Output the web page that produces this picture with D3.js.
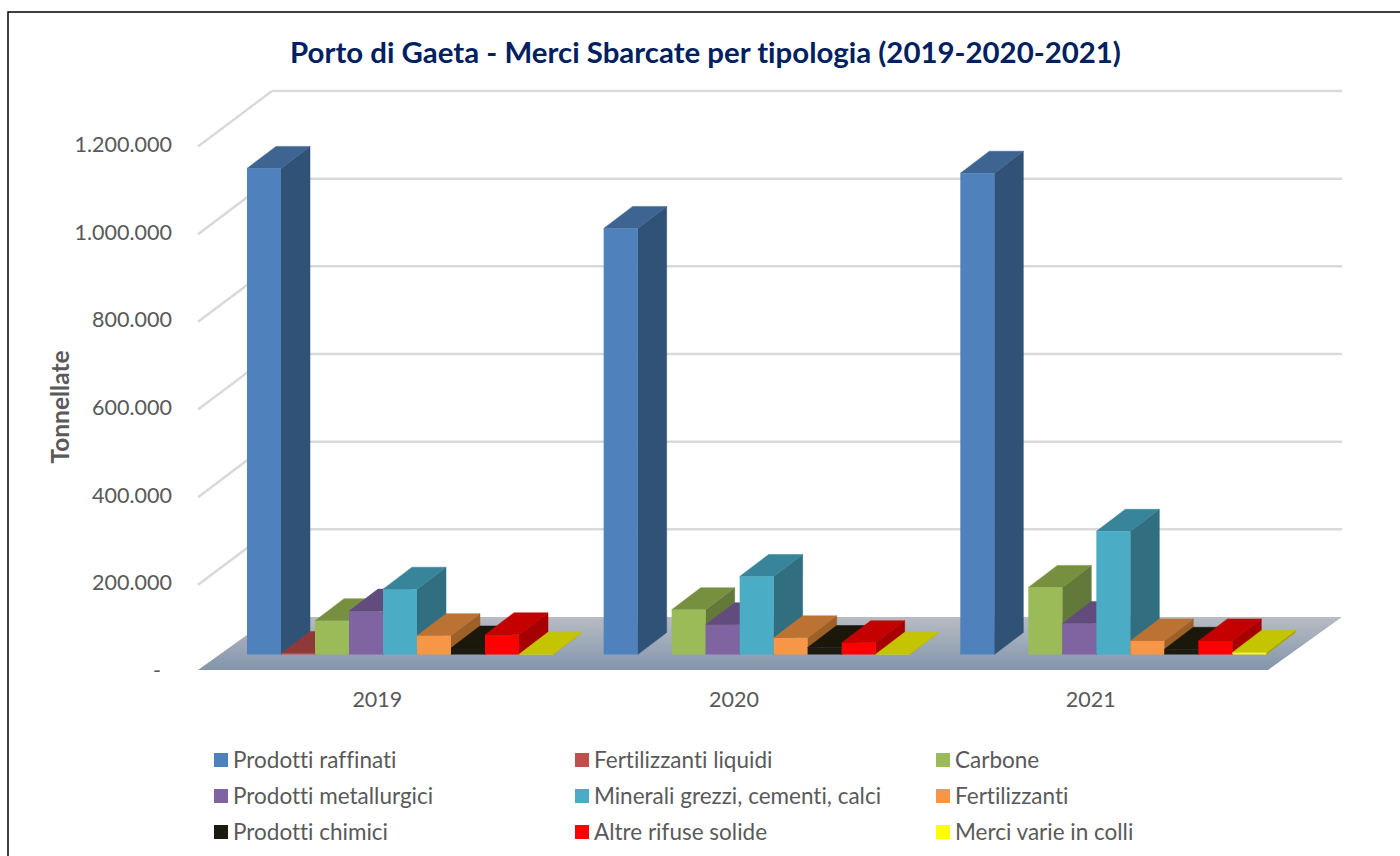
<!DOCTYPE html>
<meta charset="utf-8">
<style>
body { margin: 0; background: white; }
text { font-family: Lato, "Open Sans", sans-serif; font-variant-ligatures: none; }
.tick-label { fill: #595959; font-size: 21.5px; }
.legend-label { fill: #595959; font-size: 22.5px; }
.wall line { stroke: #d9d9d9; stroke-width: 2.5px; fill: none; }
</style>
<body>
<script src="https://d3js.org/d3.v7.min.js"></script>
<script>
var categories = ["2019", "2020", "2021"];
var seriesNames = ["Prodotti raffinati", "Fertilizzanti liquidi", "Carbone",
    "Prodotti metallurgici", "Minerali grezzi, cementi, calci", "Fertilizzanti",
    "Prodotti chimici", "Altre rifuse solide", "Merci varie in colli"];
var front = ["#4f81bd", "#c0504d", "#9bbb59", "#8064a2", "#4bacc6", "#f79646", "#1d1b10", "#ff0000", "#ffff00"];
var topFace = ["#3e6491", "#8f3a38", "#76903f", "#624c7d", "#38859b", "#bb7233", "#1a170b", "#c40000", "#c4c400"];
var sideFace = ["#315277", "#7a3130", "#63793a", "#533f6a", "#306e80", "#9e6029", "#14120a", "#a60000", "#a6a600"];

// one list per series, in the order of the years
var prodottiRaffinati = [1109000, 972000, 1098000];
var fertilizzantiLiquidi = [2500, 0, 0];
var carbone = [77000, 102000, 153000];
var prodottiMetallurgici = [99000, 68000, 71000];
var mineraliGrezzi = [149000, 178000, 281000];
var fertilizzanti = [43000, 38000, 31000];
var prodottiChimici = [15000, 16000, 12000];
var altreRifuse = [45000, 27000, 31000];
var merciVarie = [500, 500, 4500];
var seriesValues = [prodottiRaffinati, fertilizzantiLiquidi, carbone, prodottiMetallurgici,
    mineraliGrezzi, fertilizzanti, prodottiChimici, altreRifuse, merciVarie];
var yTicks = [0, 200000, 400000, 600000, 800000, 1000000, 1200000];

var svg = d3.select("body").append("svg")
    .attr("width", 1400)
    .attr("height", 856)
    .style("display", "block");

// chart border
svg.append("path")
    .attr("d", "M8,856V12H1400")
    .attr("fill", "none")
    .attr("stroke", "black")
    .attr("stroke-width", 1.5);

// front plane of the 3d box
var floorDepth = {dx: 74, dy: -53};
var barInset = {dx: 23, dy: -15.5};
var barDepth = {dx: 29, dy: -22};

var y = d3.scaleLinear().domain([0, 1200000]).range([670, 144]);
var x0 = d3.scaleBand().domain(categories).range([198, 1268]);
var x1 = d3.scaleBand().domain(d3.range(seriesNames.length)).range([0, 306]);

var fmt = function(v) {
    return v === 0 ? "-" : d3.format(",")(v).replace(/,/g, ".");
};

var defs = svg.append("defs");
var grad = defs.append("linearGradient")
    .attr("id", "floorGrad")
    .attr("x1", 0).attr("y1", 0).attr("x2", 0).attr("y2", 1);
grad.append("stop").attr("offset", "0%").attr("stop-color", "#b8bcc3");
grad.append("stop").attr("offset", "100%").attr("stop-color", "#8295ac");

// back wall gridlines, without the zero line
var wall = svg.append("g").attr("class", "wall");
wall.selectAll("line.side")
    .data(yTicks.slice(1))
    .enter().append("line")
    .attr("x1", 198)
    .attr("y1", function(d) { return y(d) + 2.5; })
    .attr("x2", 198 + floorDepth.dx)
    .attr("y2", function(d) { return y(d) + floorDepth.dy; });
wall.selectAll("line.back")
    .data(yTicks.slice(1))
    .enter().append("line")
    .attr("x1", 198 + floorDepth.dx)
    .attr("y1", function(d) { return y(d) + floorDepth.dy; })
    .attr("x2", 1268 + floorDepth.dx)
    .attr("y2", function(d) { return y(d) + floorDepth.dy; });

// floor
svg.append("path")
    .attr("d", d3.line()([
        [198, y(0)],
        [198 + floorDepth.dx, y(0) + floorDepth.dy],
        [1268 + floorDepth.dx, y(0) + floorDepth.dy],
        [1268, y(0)]
    ]) + "Z")
    .attr("fill", "url(#floorGrad)");

// bars, left to right so each front covers the side of the previous one
categories.forEach(function(cat, c) {
    var g = svg.append("g");
    seriesValues.forEach(function(vals, s) {
        if (vals[c] === 0) return;
        var left = x0(cat) + barInset.dx + 26 + x1(s);
        var right = left + x1.bandwidth();
        var base = y(0) + barInset.dy;
        var topY = base - (y(0) - y(vals[c]));
        g.append("path")
            .attr("d", d3.line()([[right, base], [right + barDepth.dx, base + barDepth.dy],
                [right + barDepth.dx, topY + barDepth.dy], [right, topY]]) + "Z")
            .attr("fill", sideFace[s])
            .attr("stroke", sideFace[s])
            .attr("stroke-width", 0.5);
        g.append("path")
            .attr("d", d3.line()([[left, topY], [left + barDepth.dx, topY + barDepth.dy],
                [right + barDepth.dx, topY + barDepth.dy], [right, topY]]) + "Z")
            .attr("fill", topFace[s])
            .attr("stroke", topFace[s])
            .attr("stroke-width", 0.5);
        g.append("rect")
            .attr("x", left)
            .attr("y", topY)
            .attr("width", x1.bandwidth())
            .attr("height", base - topY)
            .attr("fill", front[s]);
    });
});

// y tick labels
svg.selectAll("text.y")
    .data(yTicks)
    .enter().append("text")
    .attr("class", "tick-label")
    .attr("x", function(d) { return d === 0 ? 161 : 172; })
    .attr("y", function(d) { return y(d) + 8; })
    .attr("text-anchor", "end")
    .text(fmt);

// x tick labels
svg.selectAll("text.x")
    .data(categories)
    .enter().append("text")
    .attr("class", "tick-label")
    .attr("x", function(d) { return x0(d) + x0.bandwidth() / 2 + 1; })
    .attr("y", 707)
    .attr("text-anchor", "middle")
    .text(function(d) { return d; });

// axis title
svg.append("text")
    .attr("transform", "translate(69,407) rotate(-90)")
    .attr("text-anchor", "middle")
    .attr("fill", "#595959")
    .attr("font-size", 24.5)
    .attr("font-weight", 700)
    .text("Tonnellate");

// title
svg.append("text")
    .attr("x", 705.5)
    .attr("y", 63)
    .attr("text-anchor", "middle")
    .attr("fill", "#002060")
    .attr("font-size", 29.4)
    .attr("font-weight", 700)
    .text("Porto di Gaeta - Merci Sbarcate per tipologia (2019-2020-2021)");

// legend, 3 columns
var legendX = d3.scaleBand().domain([0, 1, 2]).range([214, 1297]);
var legendY = d3.scaleBand().domain([0, 1, 2]).range([742, 850]);
var legend = svg.selectAll("g.legend")
    .data(seriesNames)
    .enter().append("g")
    .attr("transform", function(d, i) {
        return "translate(" + legendX(i % 3) + "," + (legendY(Math.floor(i / 3)) + legendY.bandwidth() / 2) + ")";
    });
legend.append("rect")
    .attr("y", -7)
    .attr("width", 14)
    .attr("height", 14)
    .attr("fill", function(d, i) { return front[i]; });
legend.append("text")
    .attr("class", "legend-label")
    .attr("x", 19)
    .attr("y", 8)
    .text(function(d) { return d; });
</script>
</body>
